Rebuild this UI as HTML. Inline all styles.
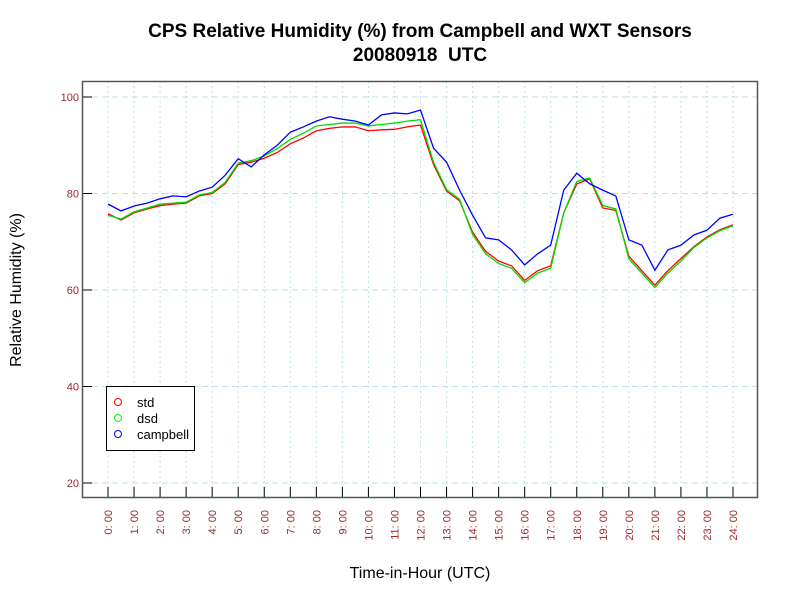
<!DOCTYPE html>
<html><head><meta charset="utf-8"><style>
body{margin:0;background:#fff;}
svg{display:block;font-family:"Liberation Sans",sans-serif;}
</style></head><body>
<svg id="chart" width="800" height="600">
<text x="420" y="37" text-anchor="middle" font-size="19" font-weight="bold">CPS Relative Humidity (%) from Campbell and WXT Sensors</text>
<text x="420" y="61" text-anchor="middle" font-size="19" font-weight="bold">20080918&#160; UTC</text>
<text transform="translate(21,290) rotate(-90)" text-anchor="middle" font-size="16">Relative Humidity (%)</text>
<text x="420" y="578" text-anchor="middle" font-size="16">Time-in-Hour (UTC)</text>
<g id="grid"></g><g id="series"></g><g id="axes"></g>
<g>
<rect x="106.5" y="386.5" width="88" height="64" fill="#fff" stroke="#000"/>
<circle cx="118" cy="402" r="3.5" fill="none" stroke="#f00"/><text x="137" y="407" font-size="13">std</text>
<circle cx="118" cy="418" r="3.5" fill="none" stroke="#0f0"/><text x="137" y="423" font-size="13">dsd</text>
<circle cx="118" cy="434" r="3.5" fill="none" stroke="#00f"/><text x="137" y="439" font-size="13">campbell</text>
</g>
</svg>
<script>
const yTicks=[20,40,60,80,100];
const xHours=[0,1,2,3,4,5,6,7,8,9,10,11,12,13,14,15,16,17,18,19,20,21,22,23,24];
const times=[0,0.5,1,1.5,2,2.5,3,3.5,4,4.5,5,5.5,6,6.5,7,7.5,8,8.5,9,9.5,10,10.5,11,11.5,12,12.5,13,13.5,14,14.5,15,15.5,16,16.5,17,17.5,18,18.5,19,19.5,20,20.5,21,21.5,22,22.5,23,23.5,24];
const campbell=[77.8,76.4,77.4,78,78.9,79.5,79.3,80.5,81.3,83.8,87.2,85.5,88,90,92.7,93.8,95,95.9,95.4,95,94.2,96.3,96.7,96.5,97.3,89.4,86.5,80.7,75.5,70.8,70.4,68.3,65.2,67.5,69.3,80.7,84.2,82,80.7,79.5,70.4,69.3,64.1,68.3,69.3,71.4,72.4,74.9,75.7];
const std=[75.8,74.5,76,76.8,77.5,77.8,78,79.5,80,82,86,86.5,87.3,88.5,90.3,91.5,93,93.5,93.8,93.8,93,93.2,93.3,93.8,94.2,86,80.5,78.5,72,68,66,65,62,64,65,76,82,83,77,76.5,67,64,61,64,66.5,69,71,72.5,73.5];
const dsd=[75.5,74.7,76.2,77,77.8,78,78.2,79.7,80.2,82.3,86.3,86.8,87.8,89.3,91.2,92.5,94,94.3,94.6,94.6,94,94.3,94.6,95,95.3,86.5,80.8,78.8,71.5,67.5,65.5,64.5,61.5,63.5,64.5,76,82.5,83.2,77.5,76.8,66.5,63.5,60.5,63.5,66,68.8,70.8,72.3,73.3];
const L=82,R=757,T=81,B=497;
const xs=h=>108+h*(625/24);
const ys=v=>97+(100-v)*(386/80);
const NS="http://www.w3.org/2000/svg";
function mk(tag,attrs,parent){const e=document.createElementNS(NS,tag);for(const k in attrs)e.setAttribute(k,attrs[k]);parent.appendChild(e);return e;}
const grid=document.getElementById('grid'),series=document.getElementById('series'),axes=document.getElementById('axes');
yTicks.forEach(v=>{
  const g=mk('line',{x1:L,x2:R,y1:ys(v),y2:ys(v),stroke:'#bfe0ea','stroke-dasharray':'6,4'},grid);
  
  
  const t=mk('line',{x1:L,x2:L+10,y1:ys(v),y2:ys(v),stroke:'#000'},axes);
  
  
  const lb=mk('text',{x:L-3,y:ys(v)+4,'text-anchor':'end','font-size':11,fill:'#a0282a'},axes);
  lb.textContent=v;
  
  
});
xHours.forEach(h=>{
  const g=mk('line',{x1:xs(h),x2:xs(h),y1:T,y2:B,stroke:'#bfe0ea','stroke-dasharray':'2,3'},grid);
  
  
  const t=mk('line',{x1:xs(h),x2:xs(h),y1:B-10,y2:B,stroke:'#000'},axes);
  
  
  const lb=mk('text',{transform:`translate(${xs(h)+4},${B+13}) rotate(-90)`,'text-anchor':'end','font-size':11,fill:'#a0282a'},axes);
  lb.textContent=h+':\u00a000';
  
  
});
const fr=mk('rect',{x:L+0.5,y:T+0.5,width:R-L,height:B-T,fill:'none',stroke:'#555','stroke-width':1.5},axes);


[[std,'#f00','std-line'],[dsd,'#0d0','dsd-line'],[campbell,'#00f','campbell-line']].forEach(([d,c,n])=>{
  const p=mk('polyline',{points:d.map((v,i)=>xs(times[i])+','+ys(v)).join(' '),fill:'none',stroke:c,'stroke-width':1.3},series);
  
  
});
</script>
</body></html>
